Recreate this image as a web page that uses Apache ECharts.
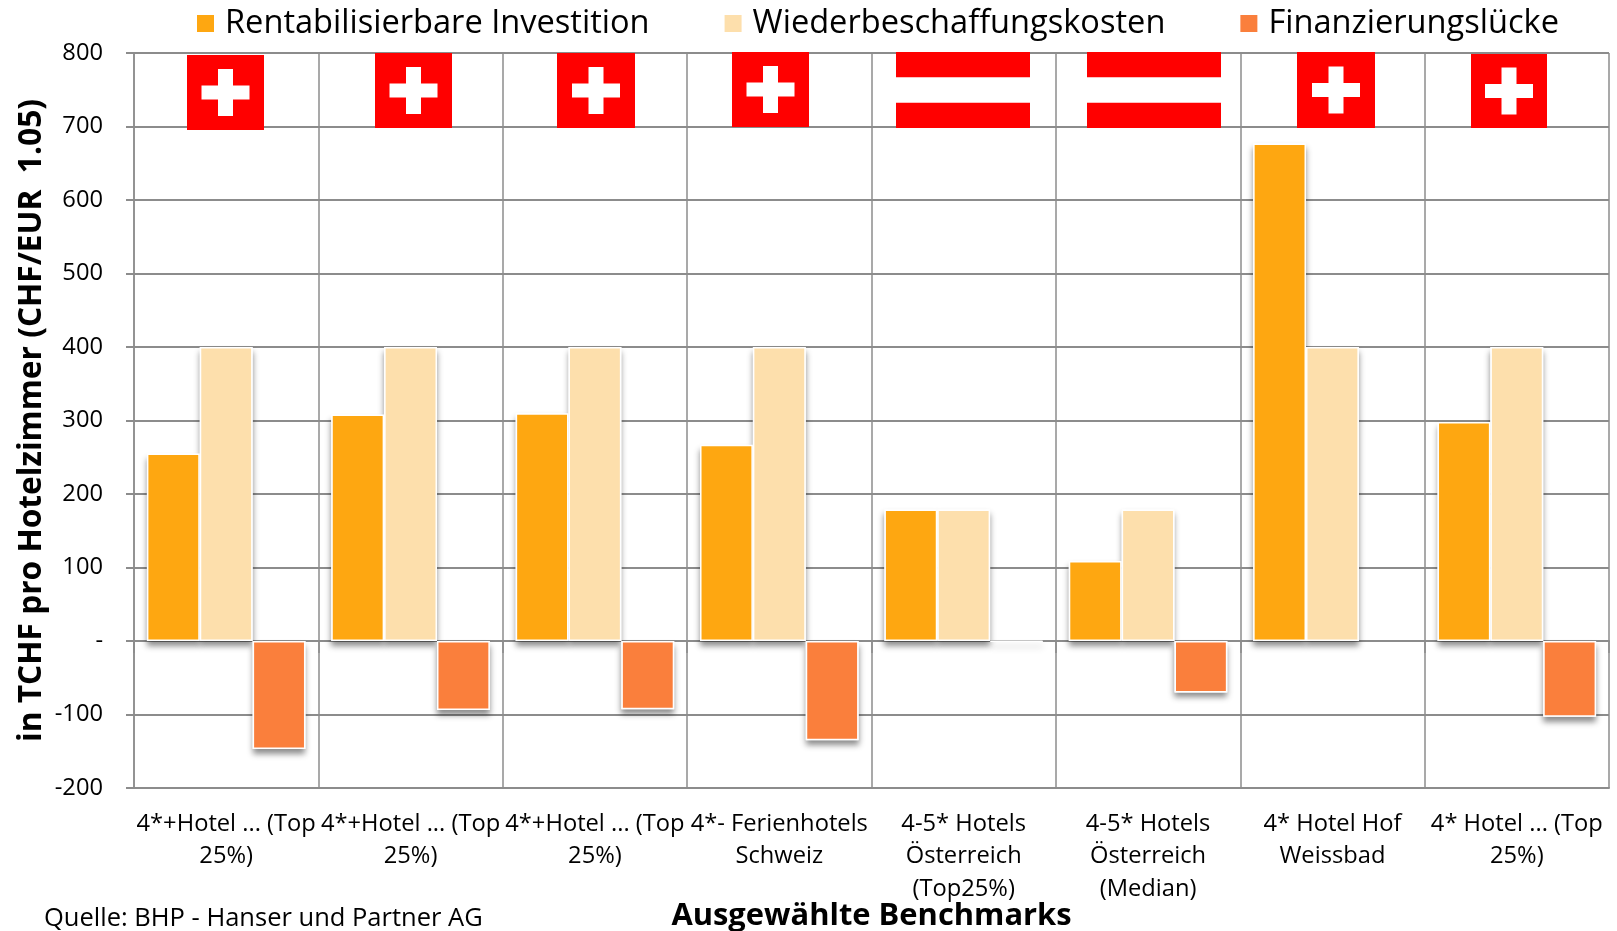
<!DOCTYPE html>
<html>
<head>
<meta charset="utf-8">
<title>Benchmarks</title>
<script src="https://cdn.jsdelivr.net/npm/echarts@6/dist/echarts.min.js"></script>
<style>
  html, body { margin: 0; padding: 0; background: #fff; }
  #main { width: 1617px; height: 931px; }
</style>
</head>
<body>
<div id="main"></div>
<script>
const categories = [
  '4*+Hotel ... (Top\n25%)',
  '4*+Hotel ... (Top\n25%)',
  '4*+Hotel ... (Top\n25%)',
  '4*- Ferienhotels\nSchweiz',
  '4-5* Hotels\nÖsterreich\n(Top25%)',
  '4-5* Hotels\nÖsterreich\n(Median)',
  '4* Hotel Hof\nWeissbad',
  '4* Hotel ... (Top\n25%)'
]
const seriesNames = ['Rentabilisierbare Investition', 'Wiederbeschaffungskosten', 'Finanzierungslücke']
const rentabel = [255, 308, 310, 267, 179, 109, 677, 298]
const wiederbeschaffung = [400, 400, 400, 400, 179, 179, 400, 400]
const luecke = [-147, -94, -93, -135, -1, -70, null, -103]
const flags = ['CH', 'CH', 'CH', 'CH', 'AT', 'AT', 'CH', 'CH']

// Flaggen sind im Original eingefuegte Bilder, daher feste Pixelboxen
const flagBoxes = [
  [187, 55, 77, 75], [375, 53, 77, 75], [557, 53, 78, 75], [732, 52, 77, 75],
  [896, 52, 134, 76], [1087, 52, 134, 76], [1297, 52, 78, 76], [1471, 54, 76, 74]
]

const font = '"Open Sans", sans-serif'
const gridColor = '#8c8c8c'
const red = '#ff0000'

function flagGraphic(type, box) {
  const [x, y, w, h] = box
  const rect = (rx, ry, rw, rh, fill) => ({
    type: 'rect', z: 20, shape: { x: rx, y: ry, width: rw, height: rh }, style: { fill }
  })
  if (type === 'AT') {
    return [rect(x, y, w, h, red), rect(x, y + h / 3, w, h / 3, '#fff')]
  }
  const cx = x + w / 2
  const cy = y + h / 2
  return [
    rect(x, y, w, h, red),
    rect(cx - 7.5, cy - 23.5, 15, 47, '#fff'),
    rect(cx - 24, cy - 7, 48, 14, '#fff')
  ]
}

function barSeries(name, data, color) {
  return {
    name,
    type: 'bar',
    data,
    z: 3,
    barGap: 0,
    barCategoryGap: '14%',
    itemStyle: { color, borderColor: '#fff', borderWidth: 1.5 },
    emphasis: { disabled: true }
  }
}

// Schatten als eigene Ebene, sonst faellt der Schatten des Rands auf die Balkenflaeche
function shadowSeries(name, data) {
  return {
    name,
    type: 'bar',
    data,
    z: 2,
    xAxisIndex: 1,
    barGap: 0,
    barCategoryGap: '14%',
    silent: true,
    itemStyle: {
      color: '#fff',
      shadowColor: 'rgba(0,0,0,0.45)',
      shadowBlur: 6,
      shadowOffsetY: 5
    }
  }
}

const myChart = echarts.init(document.getElementById('main'))
const option = {
  animation: false,
  backgroundColor: '#fff',
  textStyle: { fontFamily: font, color: '#000' },
  legend: {
    data: seriesNames,
    left: 190,
    top: 2,
    itemWidth: 19,
    itemHeight: 19,
    itemGap: 73,
    icon: 'rect',
    selectedMode: false,
    textStyle: { fontSize: 32.6, fontFamily: font, color: '#000', padding: [0, 0, 0, 5] }
  },
  grid: { left: 134, right: 8, top: 53, bottom: 143, outerBoundsMode: 'none' },
  xAxis: [
    {
      type: 'category',
      data: categories,
      position: 'bottom',
      axisLine: { onZero: false, lineStyle: { color: gridColor, width: 2 } },
      axisTick: { show: false },
      splitLine: { show: true, lineStyle: { color: gridColor, width: 1.5 } },
      axisLabel: {
        interval: 0,
        margin: 20,
        fontSize: 23.7,
        lineHeight: 32.5,
        color: '#000',
        fontFamily: font,
        verticalAlign: 'top'
      },
      name: 'Ausgewählte Benchmarks',
      nameLocation: 'middle',
      nameMoveOverlap: false,
      nameGap: 113,
      nameTextStyle: { fontSize: 30.9, fontWeight: 'bold', color: '#000', fontFamily: font }
    },
    {
      type: 'category',
      data: categories,
      position: 'bottom',
      axisLine: { onZero: true, lineStyle: { color: gridColor, width: 2 } },
      axisTick: { show: true, length: 12, lineStyle: { color: gridColor, width: 1.5 } },
      axisLabel: { show: false }
    }
  ],
  yAxis: {
    type: 'value',
    min: -200,
    max: 800,
    interval: 100,
    axisLine: { show: true, onZero: false, lineStyle: { color: gridColor, width: 1.5 } },
    axisTick: { show: true, length: 8, lineStyle: { color: gridColor, width: 2 } },
    splitLine: { show: true, lineStyle: { color: gridColor, width: 2 } },
    axisLabel: {
      margin: 31,
      fontSize: 23.7,
      color: '#000',
      fontFamily: font,
      formatter: v => (v === 0 ? '-' : String(v))
    },
    name: 'in TCHF pro Hotelzimmer (CHF/EUR  1.05)',
    nameLocation: 'middle',
    nameMoveOverlap: false,
    nameGap: 86,
    nameTextStyle: { fontSize: 31.7, fontWeight: 'bold', color: '#000', fontFamily: font }
  },
  series: [
    barSeries(seriesNames[0], rentabel, '#fea711'),
    barSeries(seriesNames[1], wiederbeschaffung, '#fddfac'),
    barSeries(seriesNames[2], luecke, '#fa7f3c'),
    shadowSeries('schatten1', rentabel),
    shadowSeries('schatten2', wiederbeschaffung),
    shadowSeries('schatten3', luecke)
  ],
  graphic: [
    ...flags.flatMap((f, i) => flagGraphic(f, flagBoxes[i])),
    {
      type: 'text',
      left: 44,
      top: 906,
      style: { text: 'Quelle: BHP - Hanser und Partner AG', font: '25.5px ' + font, fill: '#000' }
    }
  ]
}
myChart.setOption(option)
</script>
</body>
</html>
